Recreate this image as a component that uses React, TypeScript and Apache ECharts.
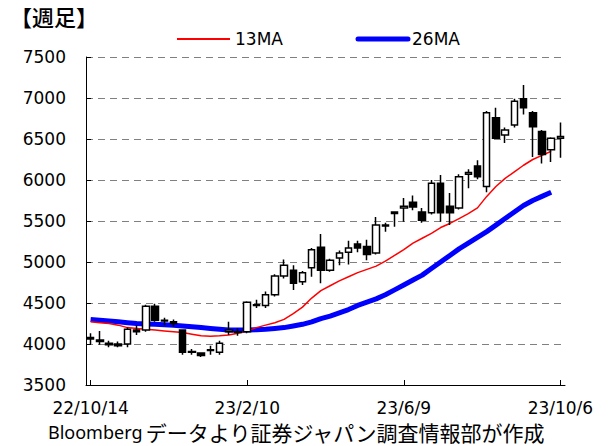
import React, { useEffect, useRef } from "react";
import * as echarts from "echarts";

const categories = [
  "22/10/14", "22/10/21", "22/10/28", "22/11/4", "22/11/11", "22/11/18", "22/11/25", "22/12/2",
  "22/12/9", "22/12/16", "22/12/23", "22/12/30", "23/1/6", "23/1/13", "23/1/20", "23/1/27",
  "23/2/3", "23/2/10", "23/2/17", "23/2/24", "23/3/3", "23/3/10", "23/3/17", "23/3/24",
  "23/3/31", "23/4/7", "23/4/14", "23/4/21", "23/4/28", "23/5/5", "23/5/12", "23/5/19",
  "23/5/26", "23/6/2", "23/6/9", "23/6/16", "23/6/23", "23/6/30", "23/7/7", "23/7/14",
  "23/7/21", "23/7/28", "23/8/4", "23/8/11", "23/8/18", "23/8/25", "23/9/1", "23/9/8",
  "23/9/15", "23/9/22", "23/9/29", "23/10/6",
];

const opens = [
  4060, 4050, 4010, 4000, 4000, 4170, 4170, 4460, 4290, 4270, 4170, 3910, 3890, 3920, 3900, 4150,
  4150, 4150, 4480, 4470, 4600, 4830, 4900, 4760, 4930, 5180, 4900, 5050, 5120, 5220, 5190, 5110,
  5440, 5590, 5660, 5730, 5610, 5600, 5960, 5680, 5660, 6070, 6170, 5920, 6760, 6550, 6670, 6990,
  6820, 6590, 6370, 6510,
];
const closes = [
  4080, 4030, 3990, 3980, 4180, 4150, 4460, 4290, 4280, 4250, 3900, 3900, 3860, 3930, 4010, 4170,
  4140, 4510, 4470, 4600, 4830, 4960, 4740, 4870, 5150, 4900, 5020, 5110, 5170, 5170, 5090, 5450,
  5450, 5610, 5680, 5670, 5510, 5960, 5600, 5600, 6040, 6090, 6040, 6820, 6510, 6610, 6960, 6880,
  6650, 6310, 6510, 6530,
];
const lows = [
  4000, 3990, 3960, 3960, 3960, 4110, 4150, 4270, 4230, 4210, 3870, 3870, 3840, 3870, 3870, 4110,
  4100, 4130, 4440, 4440, 4580, 4800, 4660, 4720, 4820, 4740, 4880, 4960, 4970, 5120, 5020, 5090,
  5370, 5430, 5490, 5630, 5480, 5580, 5490, 5450, 5640, 5900, 6010, 5850, 6500, 6450, 6640, 6800,
  6280, 6200, 6220, 6270,
];
const highs = [
  4130, 4160, 4040, 4030, 4200, 4230, 4480, 4490, 4320, 4300, 4180, 3940, 3900, 3980, 4040, 4270,
  4190, 4520, 4540, 4640, 4850, 5030, 4960, 4890, 5170, 5340, 5040, 5140, 5260, 5260, 5270, 5550,
  5480, 5620, 5780, 5810, 5660, 6000, 6060, 5840, 6070, 6130, 6240, 6840, 6880, 6640, 6990, 7160,
  6840, 6610, 6520, 6700,
];

const ma13 = [
  4270, 4260, 4250, 4230, 4200, 4190, 4180, 4170, 4160, 4150, 4140, 4120, 4100, 4095, 4100, 4110,
  4130, 4160, 4200, 4230, 4260, 4300, 4370, 4450, 4560, 4650, 4710, 4770, 4820, 4870, 4910, 4950,
  5010, 5080, 5150, 5230, 5290, 5350, 5420, 5470, 5530, 5590, 5660, 5800, 5920, 6020, 6100, 6180,
  6250, 6300, 6350, null,
];
const ma26 = [
  4300, 4290, 4280, 4270, 4260, 4250, 4245, 4240, 4235, 4230, 4220, 4210, 4200, 4190, 4180, 4170,
  4170, 4170, 4175, 4180, 4190, 4200, 4220, 4240, 4270, 4310, 4340, 4380, 4420, 4470, 4510, 4550,
  4600, 4660, 4720, 4780, 4840, 4920, 5000, 5080, 5160, 5230, 5300, 5370, 5450, 5530, 5610, 5690,
  5750, 5800, 5850, null,
];

const yMin = 3500;
const yMax = 7500;
const yStep = 500;

const title = "【週足】";
const sourceLatin = "Bloomberg";
const sourceJa = "データより証券ジャパン調査情報部が作成";
const legendNames = ["13MA", "26MA"];

export default function App() {
  const ref = useRef<HTMLDivElement>(null);
  useEffect(() => {
    if (!ref.current) return;
    const chart = echarts.init(ref.current, null, { renderer: "svg" });
    const candle = opens.map((o, i) => [o, closes[i], lows[i], highs[i]]);
    const labelFont = "DejaVu Sans";
    chart.setOption({
      animation: false,
      backgroundColor: "#ffffff",
      grid: { left: 86, right: 49, top: 57, bottom: 61, containLabel: false },
      xAxis: {
        type: "category",
        data: categories,
        boundaryGap: true,
        axisLine: { show: true, onZero: false, lineStyle: { color: "#000", width: 1 } },
        axisTick: {
          show: true,
          inside: true,
          length: 5,
          alignWithLabel: true,
          interval: (i: number) => i % 17 === 0,
          lineStyle: { color: "#000" },
        },
        axisLabel: {
          interval: (i: number) => i % 17 === 0,
          color: "#000",
          fontFamily: labelFont,
          fontSize: 17,
          margin: 14,
        },
        splitLine: { show: false },
      },
      yAxis: {
        type: "value",
        min: yMin,
        max: yMax,
        interval: yStep,
        axisLine: { show: true, lineStyle: { color: "#000", width: 1 } },
        axisTick: { show: true, inside: true, length: 5, lineStyle: { color: "#000" } },
        axisLabel: {
          color: "#000",
          fontFamily: labelFont,
          fontSize: 17,
          margin: 20,
          formatter: (v: number) => String(v),
        },
        splitLine: {
          show: true,
          lineStyle: { color: "#808080", width: 1, type: [7, 5] },
        },
      },
      graphic: [
        {
          type: "text",
          left: 10,
          top: 5,
          style: { text: title, fontSize: 22, fontFamily: "Noto Sans CJK JP", fontWeight: 500, fill: "#000" },
        },
        {
          type: "line",
          shape: { x1: 177, y1: 39, x2: 230, y2: 39 },
          style: { stroke: "#ff0000", lineWidth: 2 },
        },
        {
          type: "text",
          x: 235,
          y: 39,
          style: {
            text: legendNames[0],
            fontSize: 17,
            fontFamily: labelFont,
            fill: "#000",
            verticalAlign: "middle",
          },
        },
        {
          type: "line",
          shape: { x1: 358, y1: 39, x2: 408, y2: 39 },
          style: { stroke: "#0000ff", lineWidth: 5, lineCap: "round" },
        },
        {
          type: "text",
          x: 412,
          y: 39,
          style: {
            text: legendNames[1],
            fontSize: 17,
            fontFamily: labelFont,
            fill: "#000",
            verticalAlign: "middle",
          },
        },
        {
          type: "text",
          x: 48,
          y: 432,
          style: {
            text: "{a|" + sourceLatin + "} {b|" + sourceJa + "}",
            verticalAlign: "middle",
            rich: {
              a: { fontSize: 18, fontFamily: "Noto Sans", fill: "#000" },
              b: { fontSize: 21, fontFamily: "Noto Sans CJK JP", fill: "#000" },
            },
          },
        },
      ],
      series: [
        {
          name: "26MA",
          type: "line",
          data: ma26,
          symbol: "none",
          smooth: false,
          lineStyle: { color: "#0000ff", width: 5 },
          z: 2,
        },
        {
          name: "13MA",
          type: "line",
          data: ma13,
          symbol: "none",
          lineStyle: { color: "#ff0000", width: 1.5 },
          z: 3,
        },
        {
          name: "price",
          type: "candlestick",
          data: candle,
          barWidth: 7,
          itemStyle: {
            color: "#ffffff",
            color0: "#000000",
            borderColor: "#000000",
            borderColor0: "#000000",
            borderWidth: 1.5,
          },
          z: 4,
        },
      ],
    });
    return () => chart.dispose();
  }, []);
  return (
    <div
      ref={ref}
      style={{ position: "fixed", left: 0, top: 0, width: 614, height: 446 }}
    />
  );
}
